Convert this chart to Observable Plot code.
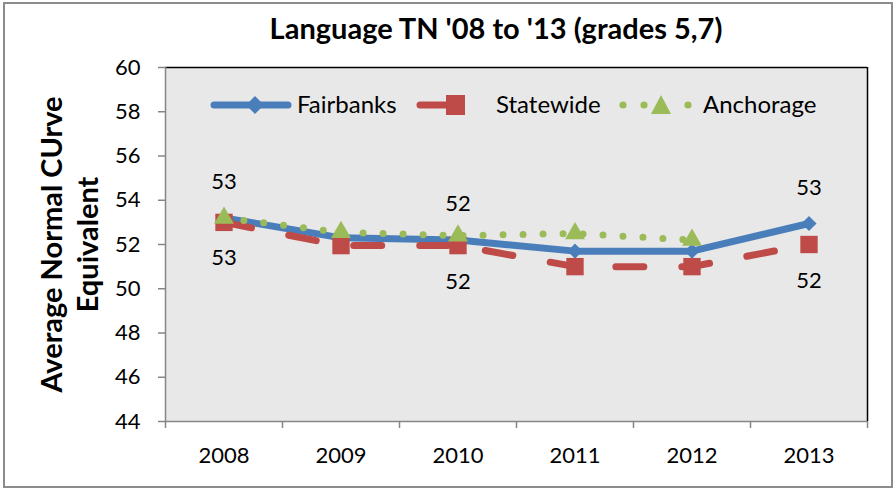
<!DOCTYPE html>
<html>
<head>
<meta charset="utf-8">
<script src="https://cdn.jsdelivr.net/npm/d3@7"></script>
<script src="https://cdn.jsdelivr.net/npm/@observablehq/plot@0.6"></script>
<style>
  html, body { margin: 0; padding: 0; background: #fff; }
  #wrap { position: relative; width: 894px; height: 488px; font-family: Lato, "Open Sans", sans-serif; overflow: hidden; }
  #border { position: absolute; left: 3px; top: 2px; width: 886px; height: 482px; border: 2px solid #8c8c8c; }
  #chart { position: absolute; left: 0; top: 0; }
  #title { position: absolute; left: 246px; top: 10px; width: 500px; text-align: center; white-space: nowrap;
           font-weight: bold; font-size: 29px; color: #000; }
  #legend { position: absolute; left: 0; top: 0; pointer-events: none; }
</style>
</head>
<body>
<div id="wrap">
  <div id="border"></div>
  <div id="chart"></div>
  <div id="title">Language TN '08 to '13 (grades 5,7)</div>
  <svg id="legend" width="894" height="488" font-family="Lato, 'Open Sans', sans-serif" font-size="24">
    <line x1="214" y1="105" x2="288" y2="105" stroke="#4a7ebb" stroke-width="7" stroke-linecap="round"/>
    <path d="M255,96 L264,105 L255,114 L246,105 Z" fill="#4a7ebb"/>
    <text x="297" y="113" fill="#000">Fairbanks</text>
    <line x1="420" y1="105" x2="450" y2="105" stroke="#be4b48" stroke-width="7" stroke-linecap="round"/>
    <rect x="446" y="95" width="19" height="20" fill="#be4b48"/>
    <text x="496" y="113" fill="#000">Statewide</text>
    <circle cx="623" cy="105" r="3.6" fill="#9bbb59"/>
    <circle cx="644" cy="105" r="3.6" fill="#9bbb59"/>
    <circle cx="688" cy="105" r="3.6" fill="#9bbb59"/>
    <path d="M661,95 L671,114 L651,114 Z" fill="#9bbb59"/>
    <text x="703" y="113" fill="#000">Anchorage</text>
  </svg>
</div>
<script>
const years = ["2008", "2009", "2010", "2011", "2012", "2013"];
const fairbanks = [53.2, 52.3, 52.2, 51.7, 51.7, 52.95];
const statewide = [53.0, 51.95, 51.95, 51.0, 51.0, 52.0];
const anchorage = [53.2, 52.55, 52.4, 52.5, 52.2, null];
const fairbanksLabels = ["53", null, "52", null, null, "53"];
const statewideLabels = ["53", null, "52", null, null, "52"];
const yTicks = [44, 46, 48, 50, 52, 54, 56, 58, 60];
const yLabel = "Average Normal CUrve\nEquivalent";

const rows = (vals, labels) => years.map((yr, i) => ({x: i + 0.5, year: yr, v: vals[i], label: labels ? labels[i] : null}));
const fb = rows(fairbanks, fairbanksLabels);
const sw = rows(statewide, statewideLabels);
const an = rows(anchorage);
const centers = years.map((_, i) => i + 0.5);
const bounds = d3.range(years.length + 1);

const chart = Plot.plot({
  width: 894,
  height: 488,
  marginLeft: 165,
  marginRight: 27,
  marginTop: 67,
  marginBottom: 67,
  style: {fontFamily: "Lato, 'Open Sans', sans-serif", fontSize: "22px", background: "transparent", color: "#000", overflow: "visible"},
  x: {domain: [0, years.length]},
  y: {domain: [44, 60]},
  marks: [
    Plot.frame({fill: "#e8e8e8", stroke: null}),
    Plot.ruleY([60], {stroke: "#000", strokeWidth: 1.5}),
    Plot.ruleX([years.length], {stroke: "#000", strokeWidth: 1.5}),
    Plot.ruleX([0], {stroke: "#868686", strokeWidth: 1.5}),
    Plot.ruleY([44], {stroke: "#868686", strokeWidth: 1.5}),
    Plot.axisY({ticks: yTicks, tickSize: 7, tickPadding: 18, label: null, stroke: "#868686", strokeOpacity: 1, strokeWidth: 1.5, fontSize: 22}),
    Plot.axisX({ticks: bounds, tickSize: 7, tickFormat: () => "", label: null, stroke: "#868686", strokeOpacity: 1, strokeWidth: 1.5}),
    Plot.axisX({ticks: centers, tickSize: 0, tickPadding: 26, tickFormat: d => years[Math.floor(d)], label: null, fontSize: 22}),
    Plot.lineY(fb, {x: "x", y: "v", stroke: "#4a7ebb", strokeWidth: 7, strokeLinecap: "round", strokeLinejoin: "round"}),
    Plot.dot(fb, {x: "x", y: "v", symbol: "diamond2", r: 6.8, fill: "#4a7ebb", stroke: null}),
    Plot.lineY(sw, {x: "x", y: "v", stroke: "#be4b48", strokeWidth: 7, strokeLinecap: "round", strokeLinejoin: "round", strokeDasharray: "28,38"}),
    Plot.dot(sw, {x: "x", y: "v", symbol: "square", r: 9.8, fill: "#be4b48", stroke: null}),
    Plot.lineY(an, {x: "x", y: "v", stroke: "#9bbb59", strokeWidth: 7, strokeLinecap: "round", strokeDasharray: "0,20"}),
    Plot.dot(an, {x: "x", y: "v", symbol: "triangle", r: 7.4, fill: "#9bbb59", stroke: null}),
    Plot.text(fb.filter(d => d.label), {x: "x", y: "v", text: "label", dy: -36, fontSize: 22}),
    Plot.text(sw.filter(d => d.label), {x: "x", y: "v", text: "label", dy: 36, fontSize: 22}),
    Plot.text([yLabel], {frameAnchor: "left", rotate: -90, dx: -97, textAnchor: "middle", lineAnchor: "middle", lineHeight: 1.25, fontWeight: "bold", fontSize: 29})
  ]
});
document.getElementById("chart").appendChild(chart);
</script>
</body>
</html>
